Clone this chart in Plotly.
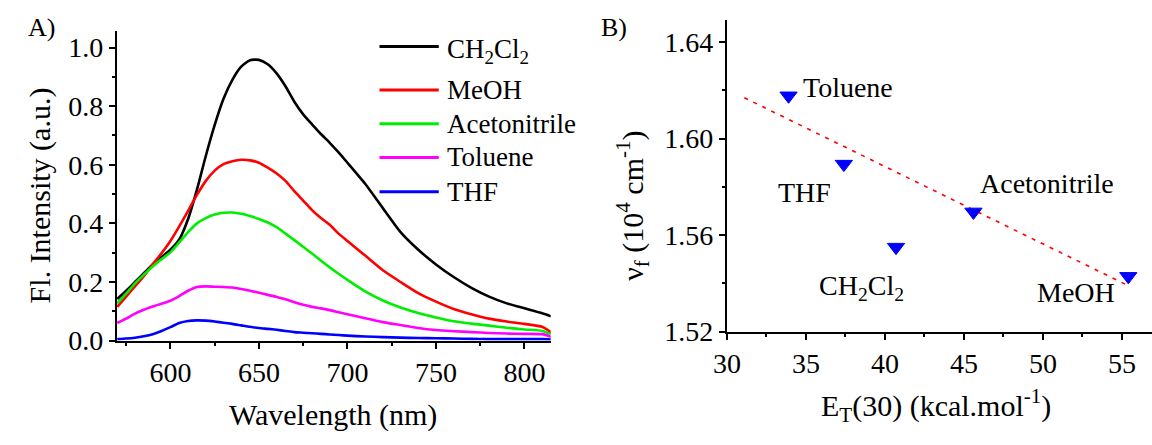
import plotly.graph_objects as go

# ---------------- data ----------------
wavelength = [570, 575, 580, 585, 590, 595, 600, 605, 610, 615, 620, 625, 630, 635, 640,
              645, 650, 655, 660, 665, 670, 675, 680, 685, 690, 695, 700,
              710, 720, 730, 740, 750, 760, 770, 780, 790, 800, 810, 815]

ch2cl2 = [0.142, 0.17, 0.20, 0.23, 0.26, 0.285, 0.31, 0.345, 0.415, 0.515, 0.63, 0.735, 0.825, 0.89, 0.935,
          0.957, 0.958, 0.943, 0.912, 0.868, 0.815, 0.772, 0.738, 0.705, 0.675, 0.642, 0.607,
          0.535, 0.452, 0.37, 0.31, 0.26, 0.217, 0.18, 0.15, 0.127, 0.11, 0.093, 0.083]
meoh = [0.115, 0.15, 0.185, 0.22, 0.26, 0.298, 0.34, 0.39, 0.443, 0.497, 0.545, 0.58, 0.602, 0.612, 0.617,
        0.615, 0.607, 0.59, 0.57, 0.545, 0.51, 0.478, 0.445, 0.418, 0.395, 0.365, 0.34,
        0.29, 0.24, 0.20, 0.162, 0.133, 0.108, 0.09, 0.075, 0.065, 0.057, 0.047, 0.028]
acetonitrile = [0.127, 0.16, 0.195, 0.225, 0.253, 0.278, 0.301, 0.335, 0.37, 0.40, 0.418, 0.43, 0.436, 0.437, 0.433,
                0.425, 0.415, 0.403, 0.387, 0.365, 0.343, 0.32, 0.297, 0.273, 0.25, 0.228, 0.207,
                0.168, 0.137, 0.113, 0.094, 0.079, 0.066, 0.058, 0.051, 0.044, 0.038, 0.033, 0.022]
toluene = [0.06, 0.075, 0.092, 0.105, 0.116, 0.126, 0.136, 0.152, 0.17, 0.183, 0.185, 0.184, 0.183, 0.181, 0.176,
           0.17, 0.163, 0.156, 0.149, 0.141, 0.131, 0.122, 0.115, 0.11, 0.104, 0.097, 0.09,
           0.076, 0.063, 0.053, 0.043, 0.036, 0.032, 0.029, 0.026, 0.024, 0.023, 0.022, 0.013]
thf = [0.005, 0.007, 0.01, 0.015, 0.022, 0.033, 0.046, 0.06, 0.067, 0.069, 0.068, 0.065, 0.061, 0.057, 0.052,
       0.047, 0.043, 0.04, 0.037, 0.033, 0.029, 0.027, 0.025, 0.023, 0.021, 0.019, 0.017,
       0.014, 0.012, 0.010, 0.009, 0.008, 0.007, 0.006, 0.005, 0.005, 0.005, 0.005, 0.004]

series_names = ["CH<sub>2</sub>Cl<sub>2</sub>", "MeOH", "Acetonitrile", "Toluene", "THF"]
series_values = [ch2cl2, meoh, acetonitrile, toluene, thf]
series_colors = ["#000000", "#ff0000", "#00ee00", "#ff00ff", "#0000ff"]

solvents = ["Toluene", "THF", "Acetonitrile", "CH<sub>2</sub>Cl<sub>2</sub>", "MeOH"]
et30 = [33.9, 37.4, 45.6, 40.7, 55.4]
nu_f = [1.6177, 1.5894, 1.5696, 1.5550, 1.5429]
fit_x = [31.1, 55.35]
fit_y = [1.6169, 1.5392]

# ---------------- layout helpers ----------------
W, H = 1152, 445
def px(x):
    return x / W
def py(y):
    return 1 - y / H

FONT = "Liberation Serif"
fig = go.Figure()

for name, vals, col in zip(series_names, series_values, series_colors):
    fig.add_trace(go.Scatter(x=wavelength, y=vals, mode="lines", name=name,
                             line=dict(color=col, width=2.6, shape="spline", smoothing=0.6),
                             xaxis="x", yaxis="y", showlegend=False))

fig.add_trace(go.Scatter(x=fit_x, y=fit_y, mode="lines",
                         line=dict(color="#ff0000", width=1.6, dash="4px,6px"),
                         xaxis="x2", yaxis="y2", showlegend=False))
fig.add_trace(go.Scatter(x=et30, y=nu_f, mode="markers",
                         marker=dict(symbol="triangle-down", size=15, color="#0000ff",
                                     line=dict(color="#0000ff", width=1)),
                         xaxis="x2", yaxis="y2", showlegend=False))

axis_common = dict(showline=True, linecolor="black", linewidth=2, showgrid=False, zeroline=False,
                   ticks="outside", ticklen=6, tickwidth=2, tickcolor="black",
                   tickfont=dict(family=FONT, size=28, color="black"), mirror=False)

fig.update_layout(
    width=W, height=H, margin=dict(l=0, r=0, t=0, b=0),
    paper_bgcolor="white", plot_bgcolor="white",
    xaxis=dict(domain=[px(104), px(543.3)], range=[569.7, 814.8], tick0=600, dtick=50,
               minor=dict(ticks="outside", ticklen=3, tickwidth=2, dtick=25, tickcolor="black"),
               anchor="y", **axis_common),
    yaxis=dict(domain=[py(353.3), py(32)], range=[0, 1.057], tick0=0, dtick=0.2, tickformat=".1f",
               minor=dict(ticks="outside", ticklen=3, tickwidth=2, dtick=0.1, tickcolor="black"),
               anchor="x", **axis_common),
    xaxis2=dict(domain=[px(721.7), 1.0], range=[30, 56.9], tick0=30, dtick=5,
                minor=dict(ticks="outside", ticklen=3, tickwidth=2, dtick=2.5, tickcolor="black"),
                anchor="y2", **axis_common),
    yaxis2=dict(domain=[py(344), py(21)], range=[1.52, 1.649], tick0=1.52, dtick=0.04, tickformat=".2f",
                minor=dict(ticks="outside", ticklen=3, tickwidth=2, dtick=0.02, tickcolor="black"),
                anchor="x2", **axis_common),
)

annotations = []
def text(x, y, t, size, xanchor="center", yanchor="middle", angle=0, xref="paper", yref="paper",
         xshift=0, yshift=0):
    annotations.append(dict(x=x, y=y, xref=xref, yref=yref, text=t, showarrow=False,
                            xanchor=xanchor, yanchor=yanchor, textangle=angle,
                            xshift=xshift, yshift=yshift,
                            font=dict(family=FONT, size=size, color="black")))

# panel labels
text(px(27.5), py(28.5), "A)", 26)
text(px(607), py(29), "B)", 26)
# axis titles
text(px(323), py(430), "Wavelength (nm)", 30)
text(px(26), py(203), "Fl. Intensity (a.u.)", 30, angle=-90)
text(px(933), py(421), "E<sub>T</sub>(30) (kcal.mol<sup>-1</sup>)", 30)
text(px(626), py(213), "ν<sub>f</sub> (10<sup>4</sup> cm<sup>-1</sup>)", 30, angle=-90)

# custom legend
legend_rows = [48.3, 93.3, 128.3, 163.3, 199]
shapes = []
for name, col, yr in zip(series_names, series_colors, legend_rows):
    shapes.append(dict(type="line", xref="paper", yref="paper", x0=px(370), x1=px(430),
                       y0=py(yr), y1=py(yr), line=dict(color=col, width=3)))
    ys = -4 if "sub" in name else 0
    text(px(436.7), py(yr), name, 27, xanchor="left", yshift=ys)

# point labels (pixel offsets from each point)
label_offsets = {
    "Toluene": ("left", 12, 8),
    "THF": ("center", -39, -28),
    "Acetonitrile": ("left", 5, 28),
    "CH<sub>2</sub>Cl<sub>2</sub>": ("center", -35, -40),
    "MeOH": ("right", -11, -16),
}
for s, xv, yv in zip(solvents, et30, nu_f):
    anc, dx, dy = label_offsets[s]
    text(xv, yv, s, 28, xanchor=anc, xref="x2", yref="y2", xshift=dx, yshift=dy)

fig.update_layout(annotations=annotations, shapes=shapes)
fig.write_html("out.html", config={"displayModeBar": False},
               post_script="document.body.style.margin='0';document.body.style.padding='0';")
